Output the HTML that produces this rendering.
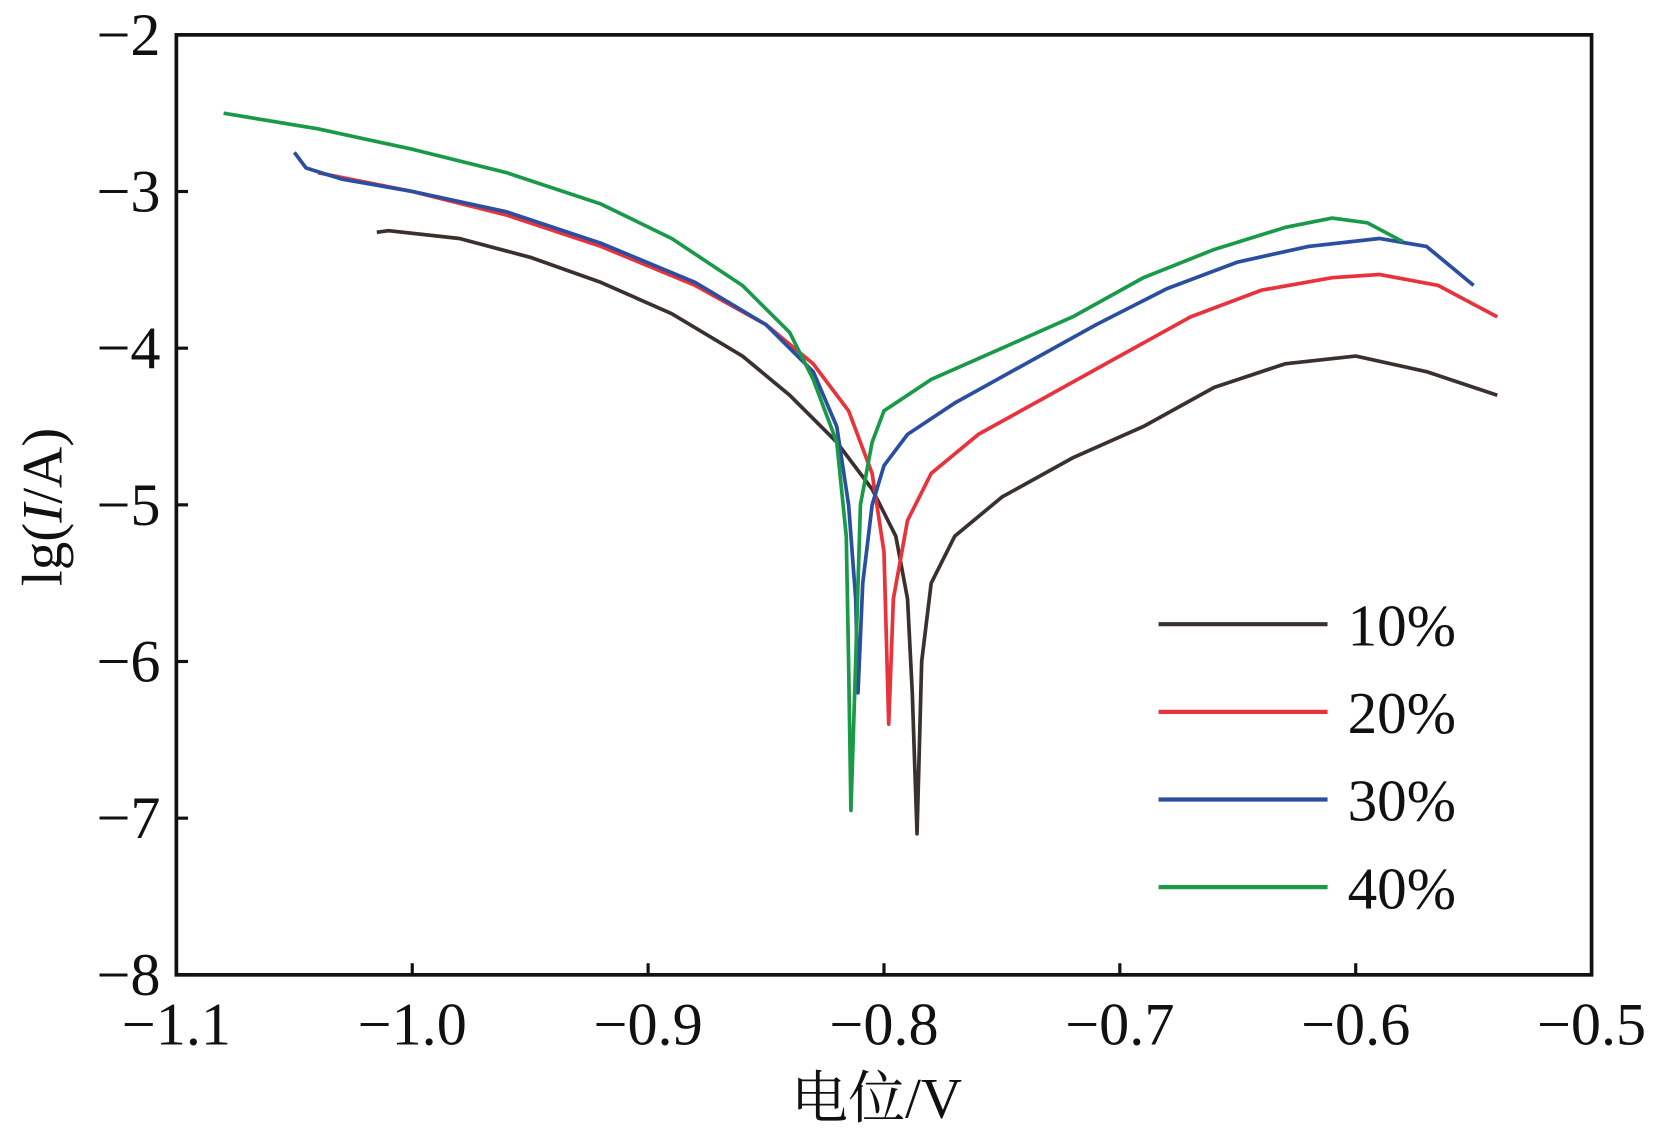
<!DOCTYPE html>
<html><head><meta charset="utf-8"><style>
html,body{margin:0;padding:0;background:#fff;}
svg{display:block;}
text{font-family:"Liberation Serif","Noto Serif CJK SC",serif;fill:#111;}
</style></head><body>
<svg id="chart" width="1656" height="1136" viewBox="0 0 1568 1075.6" preserveAspectRatio="none" xmlns="http://www.w3.org/2000/svg">
<g id="marks"></g>
</svg>
<script>
const xTicks = [-1.1, -1.0, -0.9, -0.8, -0.7, -0.6, -0.5];
const xTickLabels = ["\u22121.1","\u22121.0","\u22120.9","\u22120.8","\u22120.7","\u22120.6","\u22120.5"];
const yTicks = [-2, -3, -4, -5, -6, -7, -8];
const yTickLabels = ["\u22122","\u22123","\u22124","\u22125","\u22126","\u22127","\u22128"];
const seriesNames = ["10%","20%","30%","40%"];
const seriesColors = ["#3a302e","#e8323c","#2a4ea0","#1a9a48"];
const s10V = [-1.015,-1.01,-0.98,-0.95,-0.92,-0.89,-0.86,-0.84,-0.82,-0.805,-0.795,-0.79,-0.788,-0.786,-0.784,-0.78,-0.77,-0.75,-0.72,-0.69,-0.66,-0.63,-0.6,-0.57,-0.54];
const s10L = [-3.26,-3.25,-3.30,-3.42,-3.58,-3.78,-4.05,-4.30,-4.60,-4.90,-5.20,-5.60,-6.20,-7.10,-6.00,-5.50,-5.20,-4.95,-4.70,-4.50,-4.25,-4.10,-4.05,-4.15,-4.30];
const s20V = [-1.04,-1.0,-0.96,-0.92,-0.88,-0.85,-0.83,-0.815,-0.805,-0.8,-0.798,-0.796,-0.79,-0.78,-0.76,-0.73,-0.7,-0.67,-0.64,-0.61,-0.59,-0.565,-0.54];
const s20L = [-2.88,-3.0,-3.15,-3.35,-3.6,-3.85,-4.1,-4.4,-4.8,-5.3,-6.4,-5.6,-5.1,-4.8,-4.55,-4.3,-4.05,-3.8,-3.63,-3.55,-3.53,-3.6,-3.8];
const s30V = [-1.05,-1.045,-1.03,-1.0,-0.96,-0.92,-0.88,-0.85,-0.83,-0.82,-0.815,-0.812,-0.811,-0.809,-0.805,-0.8,-0.79,-0.77,-0.74,-0.71,-0.68,-0.65,-0.62,-0.59,-0.57,-0.55];
const s30L = [-2.75,-2.85,-2.92,-3.0,-3.13,-3.33,-3.58,-3.85,-4.15,-4.5,-5.0,-5.6,-6.2,-5.5,-5.0,-4.75,-4.55,-4.35,-4.1,-3.85,-3.62,-3.45,-3.35,-3.3,-3.35,-3.6];
const s40V = [-1.08,-1.04,-1.0,-0.96,-0.92,-0.89,-0.86,-0.84,-0.83,-0.82,-0.816,-0.815,-0.814,-0.812,-0.81,-0.805,-0.8,-0.78,-0.75,-0.72,-0.69,-0.66,-0.63,-0.61,-0.595,-0.58];
const s40L = [-2.5,-2.6,-2.73,-2.88,-3.08,-3.3,-3.6,-3.9,-4.2,-4.6,-5.2,-6.0,-6.95,-6.0,-5.0,-4.6,-4.4,-4.2,-4.0,-3.8,-3.55,-3.37,-3.23,-3.17,-3.2,-3.32];
const seriesV = [s10V, s20V, s30V, s40V];
const seriesL = [s10L, s20L, s30L, s40L];

const NS = "http://www.w3.org/2000/svg";
const L = 167, R = 1507, T = 33, B = 923;
function xs(v){ return L + (v - (-1.1)) / 0.6 * (R - L); }
function ys(v){ return T + (-2 - v) / 6 * (B - T); }
const g = document.getElementById('marks');
function mk(tag, attrs){ const e = document.createElementNS(NS, tag); for (const k in attrs) e.setAttribute(k, attrs[k]); g.appendChild(e); return e; }

for (let i = 0; i < seriesV.length; i++) {
  let d = "";
  seriesV[i].forEach((v, j) => { d += (j ? "L" : "M") + xs(v).toFixed(1) + " " + ys(seriesL[i][j]).toFixed(1); });
  const p = mk('path', {d: d, fill: 'none', stroke: seriesColors[i], 'stroke-width': 3.5, 'stroke-linejoin': 'round'});
  
  
}

const frame = mk('rect', {x: L, y: T, width: R - L, height: B - T, fill: 'none', stroke: '#111', 'stroke-width': 3.5});



xTicks.forEach((v, i) => {
  const t = mk('line', {x1: xs(v), x2: xs(v), y1: B, y2: B - 11, stroke: '#111', 'stroke-width': 3});
  
  
  const lb = mk('text', {x: xs(v), y: 989, 'text-anchor': 'middle', 'font-size': 57});
  lb.textContent = xTickLabels[i];
  
  
});
yTicks.forEach((v, i) => {
  const t = mk('line', {x1: L, x2: L + 11, y1: ys(v), y2: ys(v), stroke: '#111', 'stroke-width': 3});
  
  
  const lb = mk('text', {x: 152, y: ys(v) + 19, 'text-anchor': 'end', 'font-size': 57});
  lb.textContent = yTickLabels[i];
  
  
});

const xt = mk('text', {x: 830, y: 1058, 'text-anchor': 'middle', 'font-size': 54});
xt.textContent = "电位/V";



const yt = mk('text', {x: 0, y: 0, 'text-anchor': 'middle', 'font-size': 54, transform: 'translate(58,480) rotate(-90)'});
yt.innerHTML = 'lg(<tspan font-style="italic">I</tspan>/A)';



const legY = [591, 674, 757, 840];
seriesNames.forEach((n, i) => {
  const ln = mk('line', {x1: 1097, x2: 1257, y1: legY[i], y2: legY[i], stroke: seriesColors[i], 'stroke-width': 4});
  
  
  const tx = mk('text', {x: 1276, y: legY[i] + 20, 'font-size': 56});
  tx.textContent = n;
  
  
});
</script>
</body></html>
